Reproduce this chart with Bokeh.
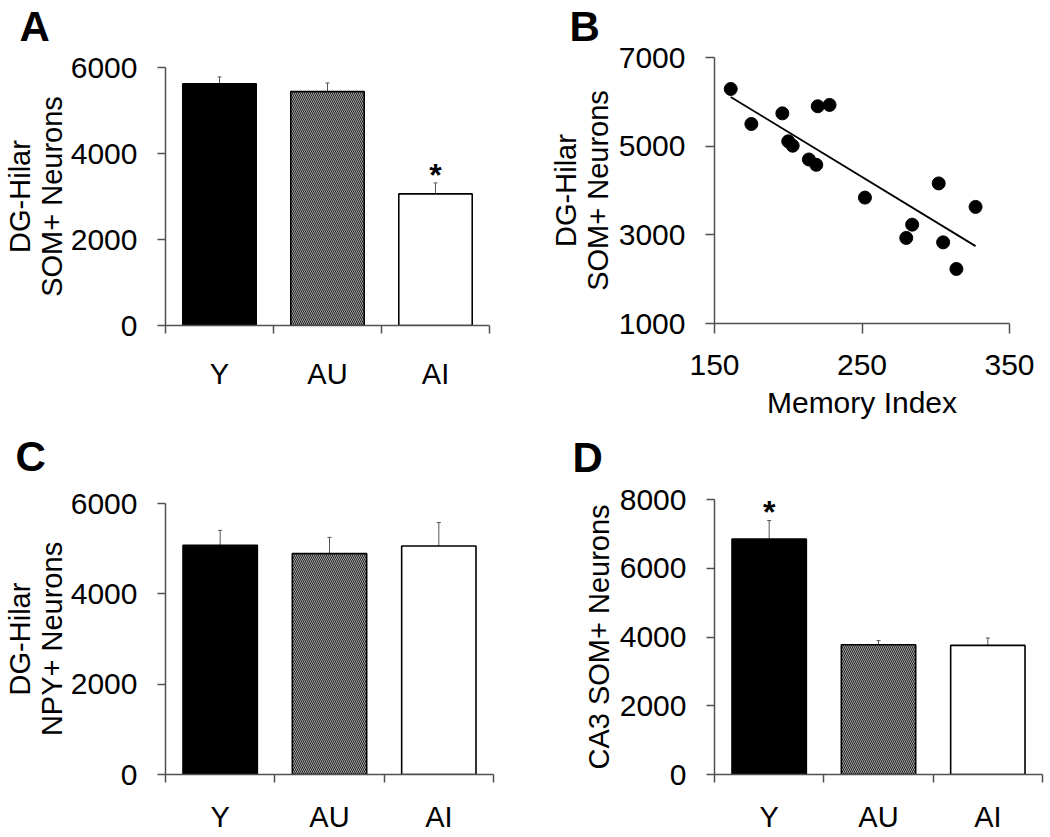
import numpy as np
from bokeh.plotting import figure
from bokeh.layouts import column, row
from bokeh.models import FixedTicker, Whisker, ColumnDataSource, Range1d, TeeHead, Title
from bokeh.core.properties import value
from bokeh.embed import file_html
from bokeh.resources import INLINE

# ---------------- data ----------------
groups = ["Y", "AU", "AI"]

# A: DG-Hilar SOM+ neurons
a_mean = [5620, 5440, 3060]
a_err = [160, 200, 256]
a_star = [False, False, True]

# B: scatter memory index vs DG-Hilar SOM+ neurons
b_memory = [161, 175, 196, 200, 203, 214, 219, 220, 228, 252, 280, 284, 302, 305, 314, 327]
b_neurons = [6290, 5500, 5740, 5110, 5010, 4700, 4580, 5900, 5930, 3840, 2930, 3230, 4160, 2830, 2230, 3630]
b_fit_x = [161, 327]
b_fit_y = [6110, 2745]

# C: DG-Hilar NPY+ neurons
c_mean = [5075, 4890, 5060]
c_err = [330, 360, 520]
c_star = [False, False, False]

# D: CA3 SOM+ neurons
d_mean = [6850, 3775, 3755]
d_err = [540, 120, 215]
d_star = [True, False, False]

FONT = "Liberation Sans"
AXIS_COLOR = "#505050"
fills = ["black", "#a0a0a0", "white"]
hatches = [" ", "left_diagonal_line", " "]


def base_fig(width, height, left, right, top, bottom, x_range, y_range):
    p = figure(width=width, height=height, x_range=x_range, y_range=y_range,
               output_backend="svg", toolbar_location=None, tools="", title=None,
               min_border_left=left, min_border_right=right,
               min_border_top=top, min_border_bottom=bottom)
    p.frame_align = False
    p.outline_line_color = None
    p.grid.visible = False
    p.background_fill_color = "white"
    p.border_fill_color = "white"
    for ax in (p.xaxis[0], p.yaxis[0]):
        ax.axis_line_color = AXIS_COLOR
        ax.axis_line_width = 1.5
        ax.major_tick_line_color = AXIS_COLOR
        ax.major_tick_line_width = 1.5
        ax.minor_tick_line_color = AXIS_COLOR
        ax.minor_tick_line_width = 1.5
        ax.major_tick_in = 0
        ax.minor_tick_in = 0
        ax.major_label_text_font = FONT
        ax.major_label_text_font_size = "30px"
        ax.major_label_text_color = "black"
        ax.axis_label_text_font = FONT
        ax.axis_label_text_font_size = "29px"
        ax.axis_label_text_font_style = "normal"
        ax.axis_label_text_color = "black"
        ax.axis_label_text_line_height = 1.0
    return p


def panel_letter(p, text, offset, spacer_px):
    # an invisible spacer line between the frame and the letter, then the letter
    p.add_layout(Title(text="\u00a0", text_font=FONT, text_font_size=f"{spacer_px}px",
                       standoff=0), "above")
    p.add_layout(Title(text=text, text_font=FONT, text_font_size="42px",
                       text_font_style="bold", text_color="black", align="left",
                       offset=offset, standoff=0), "above")


def bar_panel(mean, err, star, ymax, ystep, ylabel, geom, lab_standoff, ylab_standoff, tick_standoff):
    n = len(groups)
    xs = np.arange(n) + 0.5
    p = base_fig(*geom, Range1d(0, n), Range1d(0, ymax))
    src = ColumnDataSource(dict(x=xs, top=mean, fill=fills, hatch=hatches,
                                upper=np.array(mean) + np.array(err),
                                lower=np.array(mean) - np.array(err)))
    p.vbar(x="x", top="top", width=0.68, bottom=0, source=src,
           fill_color="fill", line_color="black", line_width=1.6,
           hatch_pattern="hatch", hatch_color="#262626", hatch_scale=4,
           hatch_weight=1.0)
    p.add_layout(Whisker(source=src, base="x", upper="upper", lower="lower",
                         dimension="height", line_color="#555555", line_width=1,
                         upper_head=TeeHead(size=4, line_color="#555555", line_width=1),
                         lower_head=TeeHead(size=4, line_color="#555555", line_width=1)))
    sx = [xs[i] for i in range(n) if star[i]]
    sy = [mean[i] + err[i] for i in range(n) if star[i]]
    if sx:
        p.text(x=sx, y=sy, text=["*"] * len(sx), text_font=value(FONT),
               text_font_size="32px", text_font_style="bold", text_color="black",
               text_align="center", text_baseline="alphabetic", y_offset=-8)
    xa = p.xaxis[0]
    xa.ticker = FixedTicker(ticks=list(xs), minor_ticks=list(range(n + 1)))
    xa.major_label_overrides = {float(v): g for v, g in zip(xs, groups)}
    xa.major_tick_out = 0
    xa.minor_tick_out = 8
    xa.major_label_standoff = lab_standoff
    xa.major_label_text_font_size = "29px"
    ya = p.yaxis[0]
    ya.ticker = FixedTicker(ticks=list(range(0, ymax + 1, ystep)), minor_ticks=[])
    ya.major_tick_out = 8
    ya.minor_tick_out = 0
    ya.major_label_standoff = tick_standoff
    ya.axis_label = ylabel
    ya.axis_label_standoff = ylab_standoff
    return p


# A  (figure 520 x 430; frame 163..489 / 67..325)
pA = bar_panel(a_mean, a_err, a_star, 6000, 2000, "DG-Hilar\nSOM+ Neurons",
               (520, 430, 163, 31, 67, 105), 24, 0, 20)
panel_letter(pA, "A", -146, 14)

# C  (figure 520 x 405; frame 163..493 / 502..776)
pC = bar_panel(c_mean, c_err, c_star, 6000, 2000, "DG-Hilar\nNPY+ Neurons",
               (520, 405, 163, 27, 72, 59), 18, 0, 20)
panel_letter(pC, "C", -150, 20)

# D  (figure 528 x 405; frame 714..1042 / 499..776)
pD = bar_panel(d_mean, d_err, d_star, 8000, 2000, "CA3 SOM+ Neurons",
               (528, 405, 194, 6, 69, 59), 18, 2, 20)
panel_letter(pD, "D", -142, 16)

# B  (figure 528 x 430; frame 714..1009 / 57..323)
pB = base_fig(528, 430, 194, 39, 57, 107, Range1d(150, 350), Range1d(1000, 7000))
pB.line(b_fit_x, b_fit_y, line_color="black", line_width=1.8)
pB.scatter(b_memory, b_neurons, size=13, fill_color="black", line_color="black")
xb = pB.xaxis[0]
xb.ticker = FixedTicker(ticks=[150, 250, 350], minor_ticks=[])
xb.major_tick_out = 10
xb.minor_tick_out = 0
xb.major_label_standoff = 21
xb.axis_label = "Memory Index"
xb.axis_label_standoff = 8
xb.axis_label_text_font_size = "30px"
yb = pB.yaxis[0]
yb.ticker = FixedTicker(ticks=[1000, 3000, 5000, 7000], minor_ticks=[])
yb.major_tick_out = 9
yb.minor_tick_out = 0
yb.major_label_standoff = 20
yb.axis_label = "DG-Hilar\nSOM+ Neurons"
yb.axis_label_standoff = 2
panel_letter(pB, "B", -145, 5)

layout = column(row(pA, pB), row(pC, pD))
open("out.html", "w").write(file_html(layout, INLINE))
